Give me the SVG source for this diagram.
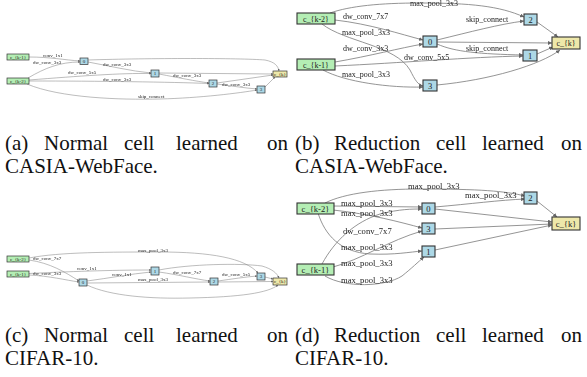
<svg xmlns="http://www.w3.org/2000/svg" width="587" height="377" viewBox="0 0 587 377" font-family="'Liberation Serif', serif">
<style>
text{font-family:"Liberation Serif","Times New Roman",serif;fill:#222}
.e{fill:none;stroke:#7a7a7a}
.s .e{stroke-width:0.5}
.l .e{stroke-width:0.8}
.in rect{fill:#b4eeb4}
.mid rect{fill:#add8e6}
.out rect{fill:#eee8aa}
.s rect{stroke:#333;stroke-width:0.7}
.l rect{stroke:#333;stroke-width:1.1}
.s text{font-size:5px}
.l text{font-size:8px}
#panel-d text{font-size:8.6px}
.l .nd text{font-size:8.5px}
.lab{filter:url(#gray)}
.cap{font-size:21px;fill:#111}
</style>
<defs>
<filter id="gray" x="-5%" y="-20%" width="110%" height="140%"><feOffset dx="0" dy="0"/></filter>
<marker id="as" viewBox="0 0 6 6" refX="6" refY="3" markerWidth="2.2" markerHeight="2.2" markerUnits="userSpaceOnUse" orient="auto"><path d="M0,0L6,3L0,6z" fill="#666"/></marker>
<marker id="al" viewBox="0 0 6 6" refX="6" refY="3" markerWidth="4" markerHeight="4" markerUnits="userSpaceOnUse" orient="auto"><path d="M0,0L6,3L0,6z" fill="#666"/></marker>
</defs>

<!-- (a) -->
<g class="s" id="panel-a">
<g id="a-edges" marker-end="url(#as)">
<path class="e" d="M29,57 C50,57 65,60 80,61"/>
<path class="e" d="M28,78 C45,68 60,62 80,62"/>
<path class="e" d="M29,80 C80,76 120,73 151,73.5"/>
<path class="e" d="M29,81 C100,81 170,82 209,83.5"/>
<path class="e" d="M27,84 C60,98 120,100 160,99 C200,98 240,93 257,90"/>
<path class="e" d="M88,62 C110,66 130,71 151,73"/>
<path class="e" d="M88,60 C150,58 240,58 265,60 C275,62 278,66 279,71"/>
<path class="e" d="M159,74 C180,78 195,81 209,83"/>
<path class="e" d="M159,73 L273,74"/>
<path class="e" d="M217,84 C232,86 245,88 257,89"/>
<path class="e" d="M217,83 L273,75"/>
<path class="e" d="M265,87 L275,77"/>
</g>
<g id="a-labels" class="lab">
<text x="43" y="56.5">conv_1x1</text>
<text x="33" y="64">dw_conv_3x3</text>
<text x="68" y="74">dw_conv_5x5</text>
<text x="103" y="80.5">dw_conv_3x3</text>
<text x="138" y="97.5">skip_connect</text>
<text x="103" y="66">dw_conv_3x3</text>
<text x="173" y="77">dw_conv_3x3</text>
<text x="222" y="86">dw_conv_3x3</text>
</g>
<g id="a-ck1" class="in"><rect x="7" y="54" width="22" height="6"/><text x="18" y="58.8" text-anchor="middle">c_{k-1}</text></g>
<g id="a-ck2" class="in"><rect x="7" y="78" width="22" height="6"/><text x="18" y="82.8" text-anchor="middle">c_{k-2}</text></g>
<g id="a-n0" class="mid"><rect x="80" y="58" width="8" height="6.5"/><text x="84" y="63" text-anchor="middle">0</text></g>
<g id="a-n1" class="mid"><rect x="151" y="70" width="8" height="7"/><text x="155" y="75.3" text-anchor="middle">1</text></g>
<g id="a-n2" class="mid"><rect x="209" y="80" width="8" height="7"/><text x="213" y="85.3" text-anchor="middle">2</text></g>
<g id="a-n3" class="mid"><rect x="257" y="86" width="8" height="7"/><text x="261" y="91.3" text-anchor="middle">3</text></g>
<g id="a-ck" class="out"><rect x="273" y="71" width="14" height="6"/><text x="280" y="75.8" text-anchor="middle">c_{k}</text></g>
</g>

<!-- (b) -->
<g class="l" id="panel-b">
<g id="b-edges" marker-end="url(#al)">
<path class="e" d="M330,13 C350,6 380,3 420,3 C470,3 500,6 524,17"/>
<path class="e" d="M335,20 C370,24 400,34 423,40"/>
<path class="e" d="M322,24 C345,42 395,45 410,70 C415,80 418,85 423,86"/>
<path class="e" d="M335,62 C370,56 400,48 423,44"/>
<path class="e" d="M335,66 C400,63 470,57 523,56"/>
<path class="e" d="M323,70 C345,82 390,88 423,87"/>
<path class="e" d="M437,40 C470,32 500,24 524,21"/>
<path class="e" d="M437,42 L552,43"/>
<path class="e" d="M437,44 C455,52 480,54 523,55"/>
<path class="e" d="M537,22 L558,37"/>
<path class="e" d="M537,54 L553,47"/>
<path class="e" d="M437,85 C490,80 540,65 560,50"/>
</g>
<g id="b-labels" class="lab">
<text x="410" y="6">max_pool_3x3</text>
<text x="343" y="19">dw_conv_7x7</text>
<text x="342" y="35">max_pool_3x3</text>
<text x="343" y="51">dw_conv_3x3</text>
<text x="404" y="60">dw_conv_5x5</text>
<text x="342" y="77">max_pool_3x3</text>
<text x="466" y="22">skip_connect</text>
<text x="466" y="51">skip_connect</text>
</g>
<g id="b-ck2" class="in"><rect x="297" y="13" width="38" height="11"/><text x="316" y="21.5" text-anchor="middle">c_{k-2}</text></g>
<g id="b-ck1" class="in"><rect x="297" y="59" width="38" height="11"/><text x="316" y="67.5" text-anchor="middle">c_{k-1}</text></g>
<g id="b-n0" class="mid nd"><rect x="423" y="36" width="14" height="11"/><text x="430" y="44.5" text-anchor="middle">0</text></g>
<g id="b-n3" class="mid nd"><rect x="423" y="80" width="14" height="11"/><text x="430" y="88.5" text-anchor="middle">3</text></g>
<g id="b-n2" class="mid nd"><rect x="524" y="14" width="13" height="11"/><text x="530.5" y="22.5" text-anchor="middle">2</text></g>
<g id="b-n1" class="mid nd"><rect x="523" y="50" width="14" height="11"/><text x="530" y="58.5" text-anchor="middle">1</text></g>
<g id="b-ck" class="out"><rect x="552" y="37" width="28" height="12"/><text x="566" y="46" text-anchor="middle">c_{k}</text></g>
</g>

<!-- (c) -->
<g class="s" id="panel-c">
<g id="c-edges" marker-end="url(#as)">
<path class="e" d="M29,260 C50,263 65,272 79,281"/>
<path class="e" d="M29,275 C50,276 65,280 79,282"/>
<path class="e" d="M29,273.5 C80,271 120,270 151,270"/>
<path class="e" d="M87,281 C110,278 130,274 151,272"/>
<path class="e" d="M87,283 L210,282"/>
<path class="e" d="M87,285 C110,296 150,299 190,298 C240,297 268,293 278,285"/>
<path class="e" d="M159,272 C180,275 195,279 210,281"/>
<path class="e" d="M159,270 C190,264 240,263 262,266 C272,269 277,273 279,278"/>
<path class="e" d="M218,281 C232,279 245,277 257,276"/>
<path class="e" d="M218,282 L273,281.5"/>
<path class="e" d="M265,277 L273,279"/>
<path class="e" d="M29,258 C60,252 110,252 160,252 C210,252 245,258 258,273"/>
</g>
<g id="c-labels" class="lab">
<text x="33" y="260">dw_conv_7x7</text>
<text x="33" y="275">dw_conv_3x3</text>
<text x="77" y="270">conv_1x1</text>
<text x="112" y="276">conv_1x1</text>
<text x="138" y="281">max_pool_3x3</text>
<text x="173" y="274">dw_conv_7x7</text>
<text x="222" y="276">dw_conv_5x5</text>
<text x="138" y="251.5">max_pool_3x3</text>
</g>
<g id="c-ck2" class="in"><rect x="7" y="256" width="22" height="6"/><text x="18" y="260.8" text-anchor="middle">c_{k-2}</text></g>
<g id="c-ck1" class="in"><rect x="7" y="271" width="22" height="6"/><text x="18" y="275.8" text-anchor="middle">c_{k-1}</text></g>
<g id="c-n0" class="mid"><rect x="79" y="279" width="8" height="7"/><text x="83" y="284.3" text-anchor="middle">0</text></g>
<g id="c-n1" class="mid"><rect x="151" y="267" width="8" height="8"/><text x="155" y="272.8" text-anchor="middle">1</text></g>
<g id="c-n2" class="mid"><rect x="210" y="278" width="8" height="7"/><text x="214" y="283.3" text-anchor="middle">2</text></g>
<g id="c-n3" class="mid"><rect x="257" y="273" width="8" height="7"/><text x="261" y="278.3" text-anchor="middle">3</text></g>
<g id="c-ck" class="out"><rect x="273" y="278" width="14" height="7"/><text x="280" y="283.3" text-anchor="middle">c_{k}</text></g>
</g>

<!-- (d) -->
<g class="l" id="panel-d">
<g id="d-edges" marker-end="url(#al)">
<path class="e" d="M325,203 C345,193 380,189 420,189 C480,189 505,191 525,196"/>
<path class="e" d="M435,207 C470,204 500,200 525,199"/>
<path class="e" d="M333,206 L422,207"/>
<path class="e" d="M333,210 C370,214 400,222 422,228"/>
<path class="e" d="M318,213 C325,235 340,252 370,254 C395,255 410,252 422,251"/>
<path class="e" d="M322,264 C335,240 355,222 380,214 C400,209 412,209 422,209"/>
<path class="e" d="M333,267 C360,260 390,240 422,231"/>
<path class="e" d="M325,276 C345,288 385,287 402,276 C412,268 418,262 424,257"/>
<path class="e" d="M435,209 L552,222"/>
<path class="e" d="M435,229 L552,224"/>
<path class="e" d="M435,250 L552,225"/>
<path class="e" d="M537,201 L557,217"/>
</g>
<g id="d-labels" class="lab">
<text x="408" y="189">max_pool_3x3</text>
<text x="465" y="198">max_pool_3x3</text>
<text x="341" y="205.5">max_pool_3x3</text>
<text x="341" y="215.5">max_pool_3x3</text>
<text x="343" y="234">dw_conv_7x7</text>
<text x="341" y="249.5">max_pool_3x3</text>
<text x="341" y="266">max_pool_3x3</text>
<text x="341" y="282.5">max_pool_3x3</text>
</g>
<g id="d-ck2" class="in"><rect x="297" y="203" width="37" height="11"/><text x="315.5" y="211.5" text-anchor="middle">c_{k-2}</text></g>
<g id="d-ck1" class="in"><rect x="297" y="264" width="37" height="11"/><text x="315.5" y="272.5" text-anchor="middle">c_{k-1}</text></g>
<g id="d-n0" class="mid nd"><rect x="422" y="203" width="13" height="11"/><text x="428.5" y="211.5" text-anchor="middle">0</text></g>
<g id="d-n3" class="mid nd"><rect x="422" y="223" width="13" height="11"/><text x="428.5" y="231.5" text-anchor="middle">3</text></g>
<g id="d-n1" class="mid nd"><rect x="422" y="246" width="13" height="11"/><text x="428.5" y="254.5" text-anchor="middle">1</text></g>
<g id="d-n2" class="mid nd"><rect x="524" y="192" width="13" height="12"/><text x="530.5" y="201" text-anchor="middle">2</text></g>
<g id="d-ck" class="out"><rect x="552" y="217" width="28" height="13"/><text x="566" y="226.5" text-anchor="middle">c_{k}</text></g>
</g>

<!-- captions -->
<g id="captions" class="cap">
<text class="cap" y="150"><tspan x="5">(a)</tspan><tspan x="44">Normal</tspan><tspan x="124">cell</tspan><tspan x="176">learned</tspan><tspan x="288" text-anchor="end">on</tspan></text>
<text class="cap" x="5" y="173">CASIA-WebFace.</text>
<text class="cap" y="150"><tspan x="295">(b)</tspan><tspan x="334">Reduction</tspan><tspan x="436">cell</tspan><tspan x="482">learned</tspan><tspan x="582" text-anchor="end">on</tspan></text>
<text class="cap" x="295" y="173">CASIA-WebFace.</text>
<text class="cap" y="342"><tspan x="5">(c)</tspan><tspan x="44">Normal</tspan><tspan x="124">cell</tspan><tspan x="176">learned</tspan><tspan x="288" text-anchor="end">on</tspan></text>
<text class="cap" x="5" y="365">CIFAR-10.</text>
<text class="cap" y="342"><tspan x="295">(d)</tspan><tspan x="334">Reduction</tspan><tspan x="436">cell</tspan><tspan x="482">learned</tspan><tspan x="582" text-anchor="end">on</tspan></text>
<text class="cap" x="295" y="365">CIFAR-10.</text>
</g>
</svg>
